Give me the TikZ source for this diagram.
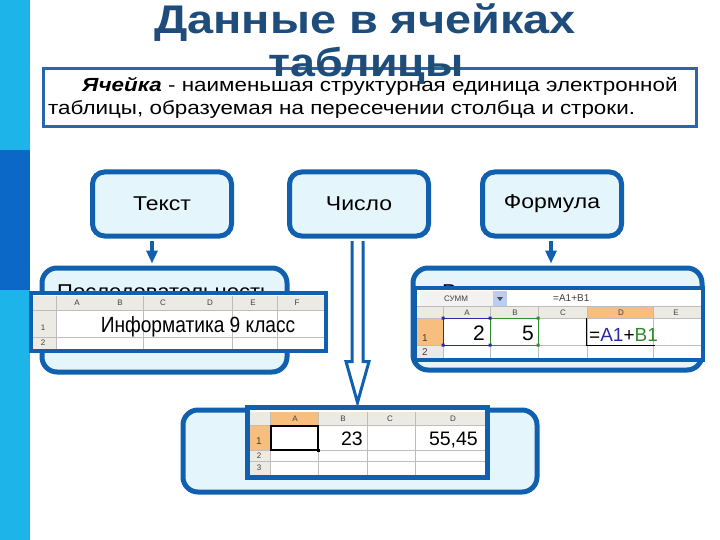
\documentclass[tikz,border=0pt]{standalone}
\usepackage{graphicx}
\usepackage{fontspec}
\setmainfont{Liberation Sans}
\usetikzlibrary{arrows.meta,calc}
\definecolor{stripcyan}{HTML}{1DB4EA}
\definecolor{stripdark}{HTML}{0B68C6}
\definecolor{titleblue}{HTML}{1E4D7B}
\definecolor{boxblue}{HTML}{1160B0}
\definecolor{boxfill}{HTML}{E4F5FC}
\definecolor{defborder}{HTML}{2B65AE}
\definecolor{hdrgray}{HTML}{ECEBE3}
\definecolor{gridgray}{HTML}{BDBDBD}
\definecolor{selorange}{HTML}{F8BE7D}
\definecolor{refblue}{HTML}{2A2AA0}
\definecolor{refgreen}{HTML}{2E8B2E}
\definecolor{dropblue}{HTML}{B9CDF0}
\newcommand{\hstretch}[2]{\scalebox{#1}[1]{#2}}
\tikzset{
  titletext/.style={font=\fontsize{40}{44}\selectfont\bfseries, text=titleblue, inner sep=0pt},
  deftext/.style={font=\fontsize{19}{23}\selectfont, inner sep=0pt},
  defbox/.style={draw=defborder, line width=3pt, fill=white, inner sep=0pt},
  topbox/.style={draw=boxblue, line width=5pt, fill=boxfill, rounded corners=12pt,
    minimum width=139pt, minimum height=64pt, inner sep=0pt, font=\fontsize{20}{24}\selectfont},
  bigbox/.style={draw=boxblue, line width=5pt, fill=boxfill, rounded corners=15pt, inner sep=0pt},
  boxtext/.style={font=\fontsize{20}{24}\selectfont, inner sep=0pt},
  grid/.style={draw=gridgray, line width=0.6pt},
  frame/.style={draw=boxblue, line width=4.5pt},
  hdr/.style={font=\fontsize{8}{9}\selectfont, text=black!75, inner sep=0pt},
  cell/.style={font=\fontsize{20}{24}\selectfont, inner sep=0pt},
  arr/.style={draw=boxblue, line width=4pt, -{Triangle[width=11pt,length=13pt]}},
}
\begin{document}
\begin{tikzpicture}[x=1pt,y=-1pt]
\useasboundingbox (0,0) rectangle (720,540);
\fill[white] (0,0) rectangle (720,540);
% left strip
\fill[stripcyan] (0,0) rectangle (30,540);
\fill[stripdark] (0,150) rectangle (30,290);

% definition box
\node[defbox, minimum width=653pt, minimum height=58pt, anchor=north west] (def) at (42,67) {};
\node[deftext, anchor=base west] (d1) at (82,92) {\hstretch{1.18}{\textbf{\textit{Ячейка}} - наименьшая структурная единица электронной}};
\node[deftext, anchor=base west] (d2) at (48,115) {\hstretch{1.18}{таблицы, образуемая на пересечении столбца и строки.}};

% title
\node[titletext, anchor=base] (t1) at (365,34) {\hstretch{1.17}{Данные в ячейках}};
\node[titletext, anchor=base] (t2) at (366,77) {\hstretch{1.12}{таблицы}};

% lower boxes
\node[bigbox, minimum width=245pt, minimum height=104pt] (posl) at (164.5,320) {};
\node[boxtext, anchor=base west] (posltxt) at (57,298) {\hstretch{1.1}{Последовательность}};
\node[bigbox, minimum width=289pt, minimum height=102pt] (formbox) at (557.5,319) {};
\node[boxtext, anchor=base west] (formtxt) at (442,298) {\hstretch{1.1}{Выражение, задающее}};
\node[bigbox, minimum width=354pt, minimum height=82pt] (numbox) at (360,451) {};

% ---------- left table ----------
\fill[white] (31,293) rectangle (326,351);
\fill[hdrgray] (31,296) rectangle (326,310);
\fill[hdrgray] (31,296) rectangle (56,351);
\draw[grid] (56,296) -- (56,351) (143,296) -- (143,351) (232,296) -- (232,351) (277,296) -- (277,351);
\draw[grid] (31,310) -- (326,310) (31,337) -- (326,337);
\node[hdr] (lA) at (77,303) {A};
\node[hdr] (lB) at (120,303) {B};
\node[hdr] (lC) at (163,303) {C};
\node[hdr] (lD) at (210,303) {D};
\node[hdr] (lE) at (253,303) {E};
\node[hdr] (lF) at (297,303) {F};
\node[hdr] (l1) at (43,328) {1};
\node[hdr] (l2) at (43,343) {2};
\node[cell, font=\fontsize{22}{26}\selectfont, anchor=base] (inf) at (198,332) {\hstretch{0.87}{Информатика 9 класс}};
\draw[frame] (31,293) rectangle (326,351);

% ---------- right table ----------
\fill[white] (415,288) rectangle (703,360);
\fill[black!5] (420,291) rectangle (493,306);
\fill[dropblue] (493,291) rectangle (507,306);
\fill[black!70] (497,297) -- (503,297) -- (500,301) -- cycle;
\node[hdr] (summ) at (456,298.5) {СУММ};
\node[hdr, anchor=west, font=\fontsize{10}{11}\selectfont] (fbar) at (553,298.5) {=A1+B1};
\fill[hdrgray] (415,307) rectangle (703,318);
\fill[hdrgray] (415,307) rectangle (443,360);
\fill[selorange] (587,307) rectangle (653,318);
\fill[selorange] (415,318) rectangle (443,345);
\draw[grid] (415,306.5) -- (703,306.5);
\draw[grid] (443,307) -- (443,360) (490,307) -- (490,360) (538,307) -- (538,360) (587,307) -- (587,360) (653,307) -- (653,360);
\draw[grid] (415,318) -- (703,318) (415,345) -- (703,345);
\node[hdr] (rA) at (467,312.5) {A};
\node[hdr] (rB) at (515,312.5) {B};
\node[hdr] (rC) at (563,312.5) {C};
\node[hdr] (rD) at (621,312.5) {D};
\node[hdr] (rE) at (676,312.5) {E};
\node[hdr, font=\fontsize{10}{11}\selectfont] (r1) at (425,338) {1};
\node[hdr, font=\fontsize{10}{11}\selectfont] (r2) at (425,352) {2};
\node[cell, font=\fontsize{21}{24}\selectfont, anchor=base east] (v2) at (485,340) {2};
\node[cell, font=\fontsize{21}{24}\selectfont, anchor=base east] (v5) at (534,340) {5};
\node[cell, font=\fontsize{19}{22}\selectfont, anchor=base west] (vf) at (589,341) {=\textcolor{refblue}{A1}+\textcolor{refgreen}{B1}};
\draw[refblue, line width=1pt] (443,318) rectangle (490,345);
\draw[refgreen, line width=1pt] (490,318) rectangle (538,345);
\fill[refblue] (441.5,316.5) rectangle (444.5,319.5) (488.5,316.5) rectangle (491.5,319.5)
  (441.5,343.5) rectangle (444.5,346.5) (488.5,343.5) rectangle (491.5,346.5);
\fill[refgreen] (536.5,316.5) rectangle (539.5,319.5) (536.5,343.5) rectangle (539.5,346.5);
\draw[black, line width=1.5pt] (586.5,318) -- (586.5,345.5) -- (655,345.5);
\draw[frame, line width=4pt] (415,288) rectangle (703,360);

% ---------- bottom table ----------
\fill[white] (247,407) rectangle (487,477);
\fill[hdrgray] (247,412) rectangle (487,425);
\fill[hdrgray] (247,412) rectangle (270,477);
\fill[selorange] (270,412) rectangle (318,425);
\fill[selorange] (247,425) rectangle (270,450);
\draw[grid] (270,412) -- (270,477) (318,412) -- (318,477) (367,412) -- (367,477) (415,412) -- (415,477);
\draw[grid] (247,425) -- (487,425) (247,450) -- (487,450) (247,461) -- (487,461);
\node[hdr] (bA) at (295,418.5) {A};
\node[hdr] (bB) at (343,418.5) {B};
\node[hdr] (bC) at (390,418.5) {C};
\node[hdr] (bD) at (453,418.5) {D};
\node[hdr, font=\fontsize{10}{11}\selectfont] (b1) at (259,441) {1};
\node[hdr] (b2) at (259,456) {2};
\node[hdr] (b3) at (259,468) {3};
\node[cell, font=\fontsize{19.5}{23}\selectfont, anchor=base east] (v23) at (363,445) {23};
\node[cell, font=\fontsize{19.5}{23}\selectfont, anchor=base east] (v55) at (478,445) {55,45};
\draw[black, line width=2pt] (271,425.5) rectangle (318,450);
\fill[black] (316.5,448.5) rectangle (320,452);
\draw[frame, line width=5pt] (247,407) rectangle (487,477);

% top boxes
\node[topbox] (tekst) at (162,204) {\hstretch{1.15}{Текст}};
\node[topbox] (chislo) at (359,204) {\hstretch{1.15}{Число}};
\node[topbox] (formula) at (552,204) {\hstretch{1.15}{Формула}};

% connectors
\coordinate (xa) at (152,0);
\coordinate (xb) at (357.5,0);
\coordinate (xc) at (551,0);
\draw[arr] ([yshift=-2.5pt]tekst.south -| xa) -- ([yshift=2pt]posl.north -| xa);
\draw[arr] ([yshift=-2.5pt]formula.south -| xc) -- ([yshift=2pt]formbox.north -| xc);
\path ([yshift=-2.5pt]chislo.south -| xb) coordinate (cs) (numbox.north -| xb) coordinate (ce);
\draw[boxblue, line width=3pt, fill=white, line join=miter]
  ($(cs)+(-5.5,0)$) -- ($(ce)+(-5.5,-46)$) -- ($(ce)+(-11.5,-46)$) -- ($(ce)+(0,-5)$)
  -- ($(ce)+(11.5,-46)$) -- ($(ce)+(5.5,-46)$) -- ($(cs)+(5.5,0)$);
\end{tikzpicture}
\end{document}
